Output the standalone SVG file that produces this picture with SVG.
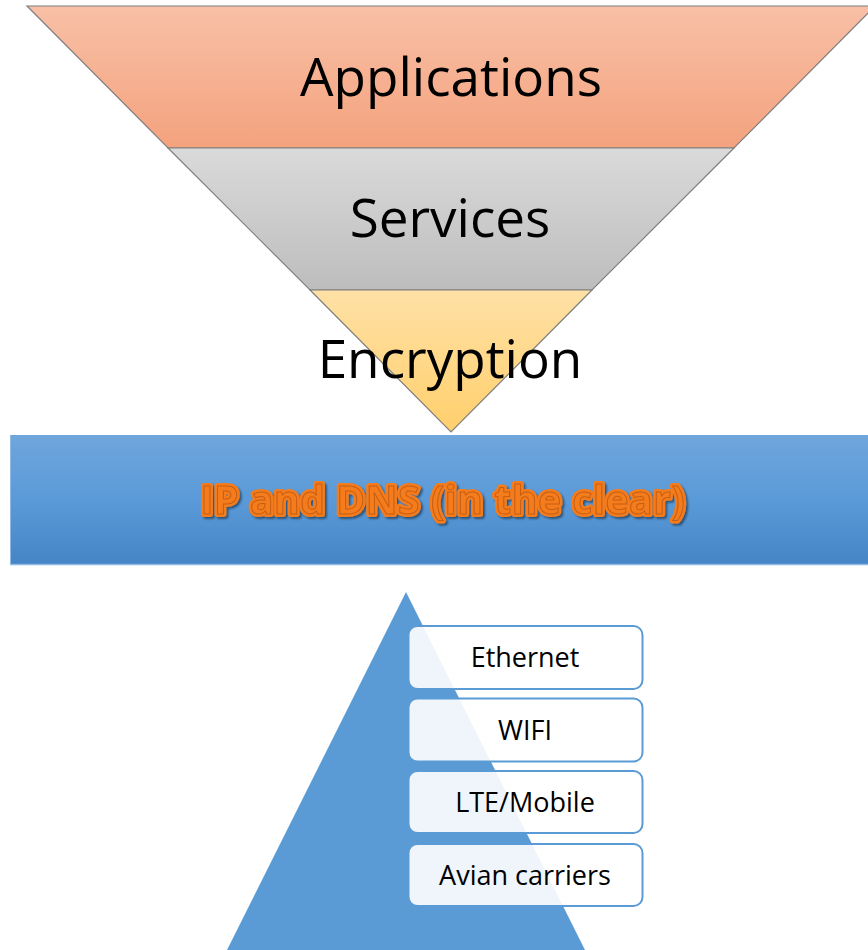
<svg xmlns="http://www.w3.org/2000/svg" width="868" height="950" viewBox="0 0 868 950">
  <defs>
    <linearGradient id="gApp" x1="0" y1="0" x2="0" y2="1">
      <stop offset="0" stop-color="#f8c0a6"/>
      <stop offset="1" stop-color="#f4a27e"/>
    </linearGradient>
    <linearGradient id="gSvc" x1="0" y1="0" x2="0" y2="1">
      <stop offset="0" stop-color="#dadada"/>
      <stop offset="1" stop-color="#bdbdbd"/>
    </linearGradient>
    <linearGradient id="gEnc" x1="0" y1="0" x2="0" y2="1">
      <stop offset="0" stop-color="#ffe1a6"/>
      <stop offset="1" stop-color="#ffcf6c"/>
    </linearGradient>
    <linearGradient id="gBand" x1="0" y1="0" x2="0" y2="1">
      <stop offset="0" stop-color="#6fa6dc"/>
      <stop offset="0.5" stop-color="#5a9ad8"/>
      <stop offset="1" stop-color="#4585c6"/>
    </linearGradient>
    <filter id="shadow" x="-5%" y="-20%" width="110%" height="140%">
      <feGaussianBlur in="SourceAlpha" stdDeviation="1.2"/>
      <feOffset dx="2" dy="2" result="b"/>
      <feComponentTransfer><feFuncA type="linear" slope="0.45"/></feComponentTransfer>
      <feMerge><feMergeNode/><feMergeNode in="SourceGraphic"/></feMerge>
    </filter>
  </defs>
  <style>
    .layer { stroke: #7f7f7f; stroke-width: 1.2; }
    .big { font-family: "Open Sans", "Liberation Sans", sans-serif; font-size: 53px; fill: #000; text-anchor: middle; }
    .box { fill: #ffffff; fill-opacity: 0.9; stroke: #5b9bd5; stroke-width: 2; }
    .boxtxt { font-family: "Open Sans", "Liberation Sans", sans-serif; font-size: 27px; fill: #000; text-anchor: middle; }
    .ip { font-family: "Open Sans", "Liberation Sans", sans-serif; font-weight: bold; font-size: 39px; letter-spacing: 0.6px; text-anchor: middle; }
  </style>

  <rect width="868" height="950" fill="#ffffff"/>

  <!-- inverted funnel -->
  <g id="applications">
    <polygon class="layer" points="27,6 875,6 734,148 168,148" fill="url(#gApp)"/>
    <text class="big" x="451" y="96">Applications</text>
  </g>
  <g id="services">
    <polygon class="layer" points="168,148 734,148 592,290 310,290" fill="url(#gSvc)"/>
    <text class="big" x="450" y="237">Services</text>
  </g>
  <g id="encryption">
    <polygon class="layer" points="310,290 592,290 451,432" fill="url(#gEnc)"/>
    <text class="big" x="450" y="378">Encryption</text>
  </g>

  <!-- IP band -->
  <g id="ip-dns">
    <rect x="10" y="435" width="860" height="130" fill="url(#gBand)"/>
    <line x1="10" y1="564.5" x2="868" y2="564.5" stroke="#8fb8e4" stroke-width="1.5"/>
    <line x1="10.5" y1="435" x2="10.5" y2="565" stroke="#8fb8e4" stroke-width="1"/>
    <g filter="url(#shadow)">
      <text class="ip" x="443" y="514" fill="#f47b1c" stroke="#f47b1c" stroke-width="6" stroke-linejoin="round">IP and DNS (in the clear)</text>
      <text class="ip" x="443" y="514" fill="#f47b1c" stroke="#c65f12" stroke-width="1">IP and DNS (in the clear)</text>
    </g>
  </g>

  <!-- link layer pyramid -->
  <g id="pyramid">
    <polygon points="406,592 586,952 226,952" fill="#5b9bd5"/>
  </g>
  <g id="ethernet">
    <rect class="box" x="408.5" y="626" width="234" height="63" rx="9"/>
    <text class="boxtxt" x="525" y="667">Ethernet</text>
  </g>
  <g id="wifi">
    <rect class="box" x="408.5" y="698.5" width="234" height="63" rx="9"/>
    <text class="boxtxt" x="525" y="740">WIFI</text>
  </g>
  <g id="lte">
    <rect class="box" x="408.5" y="771" width="234" height="62" rx="9"/>
    <text class="boxtxt" x="525" y="812">LTE/Mobile</text>
  </g>
  <g id="avian">
    <rect class="box" x="408.5" y="844" width="234" height="62" rx="9"/>
    <text class="boxtxt" x="525" y="885">Avian carriers</text>
  </g>
</svg>
